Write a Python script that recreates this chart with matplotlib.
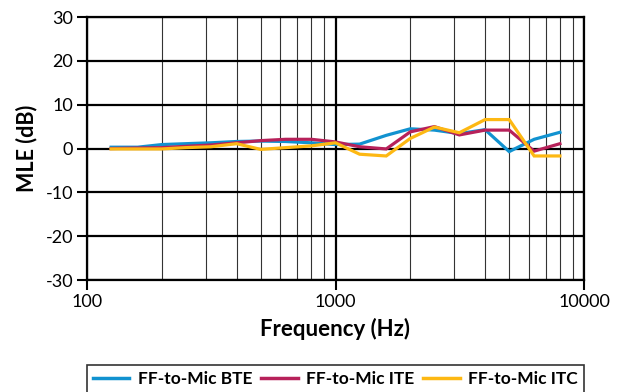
import numpy as np
import matplotlib
matplotlib.use('Agg')
import matplotlib.pyplot as plt
from matplotlib.ticker import FixedLocator, NullFormatter

# Datos (bandas de tercio de octava)

frecuencias = [125, 160, 200, 250, 315, 400, 500, 630, 800, 1000,
               1250, 1600, 2000, 2500, 3150, 4000, 5000, 6300, 8000]

mle_bte = [0.3, 0.3, 0.9, 1.1, 1.3, 1.6, 1.7, 1.6, 1.3, 0.9,
           1.0, 3.0, 4.5, 4.2, 3.4, 4.3, -0.7, 2.1, 3.7]
mle_ite = [0.0, 0.1, 0.2, 0.5, 0.8, 1.3, 1.8, 2.1, 2.1, 1.5,
           0.4, -0.1, 3.8, 5.0, 3.1, 4.2, 4.2, -0.6, 1.1]
mle_itc = [-0.1, -0.1, -0.1, 0.2, 0.4, 1.1, -0.2, 0.2, 0.6, 1.3,
           -1.3, -1.7, 2.3, 4.9, 3.6, 6.6, 6.6, -1.7, -1.7]

nombres = ['FF-to-Mic BTE', 'FF-to-Mic ITE', 'FF-to-Mic ITC']
colores = ['#1192d0', '#b7215a', '#fdb813']

plt.rcParams['font.family'] = ['Lato', 'DejaVu Sans']
plt.rcParams['axes.unicode_minus'] = False

fig = plt.figure(figsize=(6.25, 3.92), dpi=100)
ax = fig.add_axes([0.1392, 0.2857, 0.7952, 0.6709])

for serie, nombre, color in zip([mle_bte, mle_ite, mle_itc], nombres, colores):
    ax.plot(frecuencias, serie, color=color, lw=2.3, label=nombre,
            solid_joinstyle='miter', zorder=3)

ax.set_xscale('log')
ax.set_xlim(100, 10000)
ax.set_ylim(-30, 30)
ax.set_yticks(np.arange(-30, 31, 10))
ax.set_xticks([100, 1000, 10000])
ax.set_xticklabels(['100', '1000', '10000'])
menores = [m * d for d in [100, 1000] for m in range(2, 10)]
ax.xaxis.set_minor_locator(FixedLocator(menores))
ax.xaxis.set_minor_formatter(NullFormatter())

ax.grid(which='major', axis='y', color='black', lw=1.6)
ax.grid(which='major', axis='x', color='black', lw=1.6)
ax.grid(which='minor', axis='x', color='#333333', lw=0.8)

ax.tick_params(axis='both', which='major', direction='out', length=7,
               width=1.5, labelsize=13, colors='black', pad=3)
ax.tick_params(axis='x', which='minor', length=0)
for lado in ax.spines.values():
    lado.set_linewidth(1.6)

ax.set_ylabel('MLE (dB)', fontsize=15.5, fontweight='bold', labelpad=6)
ax.set_xlabel('Frequency (Hz)', fontsize=16, fontweight='bold', labelpad=6)

# Leyenda abajo, pegada al borde inferior como en el original
leg = fig.legend(loc='upper center', bbox_to_anchor=(0.5368, 0.068),
                 ncol=3, fontsize=12.5, frameon=True,
                 fancybox=False, edgecolor='black', borderaxespad=0,
                 handlelength=2.1, handletextpad=0.5, columnspacing=0.5,
                 borderpad=0.35)
leg.get_frame().set_linewidth(1.2)
for t in leg.get_texts():
    t.set_fontweight('bold')
for l in leg.get_lines():
    l.set_linewidth(2.5)

fig.savefig('out.png', dpi=100)
